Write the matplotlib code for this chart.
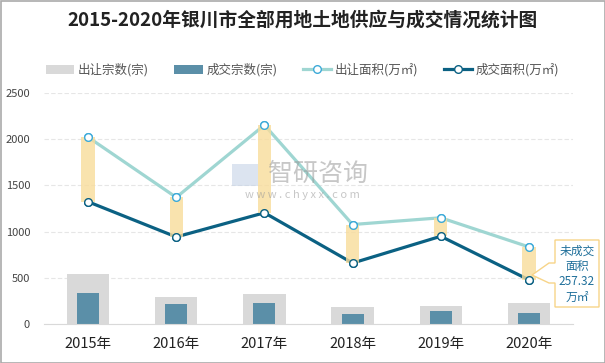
import numpy as np
import matplotlib.pyplot as plt
from matplotlib.patches import Rectangle, Polygon

plt.rcParams['font.family'] = ['Noto Sans CJK SC', 'DejaVu Sans']

years = ['2015年', '2016年', '2017年', '2018年', '2019年', '2020年']
supply_cnt = [541, 296, 329, 188, 198, 231]     # 出让宗数
deal_cnt = [339, 220, 231, 112, 144, 123]       # 成交宗数
supply_area = [2020, 1370, 2151, 1077, 1150, 835]  # 出让面积
deal_area = [1323, 943, 1204, 661, 950, 480]       # 成交面积
yticks = [0, 500, 1000, 1500, 2000, 2500]

W, H = 605, 363
fig = plt.figure(figsize=(W/100, H/100), dpi=100)
ax = fig.add_axes([44/W, 1-324.3/H, 529/W, (324.3-92.7)/H])
x = np.arange(len(years))

b1 = ax.bar(x, supply_cnt, width=0.48, color='#D9D9D9', zorder=2, label='出让宗数(宗)')
b2 = ax.bar(x, deal_cnt, width=0.25, color='#5B8FA8', zorder=2.5, label='成交宗数(宗)')

gap = np.array(supply_area) - np.array(deal_area)
ax.bar(x, gap, bottom=deal_area, width=0.15, color='#F8DC9A', alpha=0.8, zorder=4)

l1, = ax.plot(x, supply_area, color='#9FD6D2', lw=2.3, marker='o', ms=5.5,
              mfc='white', mec='#3DAAD8', mew=1.0, zorder=3, label='出让面积(万㎡)')
l2, = ax.plot(x, deal_area, color='#0B6183', lw=2.3, marker='o', ms=5.5,
              mfc='white', mec='#0B6183', mew=1.0, zorder=3, label='成交面积(万㎡)')
ax.plot(x, supply_area, ls='none', marker='o', ms=5.5, mfc='white', mec='#3DAAD8', mew=1.0, zorder=5)
ax.plot(x, deal_area, ls='none', marker='o', ms=5.5, mfc='white', mec='#0B6183', mew=1.0, zorder=5)

ax.set_xlim(-0.5, len(years)-0.5)
ax.set_ylim(0, 2500)
ax.set_yticks(yticks)
ax.set_yticklabels([str(v) for v in yticks], fontsize=8, color='#444444')
ax.set_xticks(x)
ax.set_xticklabels(years, fontsize=10.5, color='#222222')
ax.tick_params(axis='both', length=0)
ax.tick_params(axis='x', pad=9)
ax.tick_params(axis='y', pad=10)
ax.grid(axis='y', color='#E6E6E6', lw=0.8, ls=(0, (4, 2)), zorder=0)
for s in ['top', 'right', 'left']:
    ax.spines[s].set_visible(False)
ax.spines['bottom'].set_color('#D9D9D9')

fig.legend(handles=[b1, b2, l1, l2], loc='center', bbox_to_anchor=(0.5, 1-70/H), ncol=4,
           frameon=False, fontsize=9, labelcolor='#555555', handlelength=2.3,
           handletextpad=0.3, columnspacing=2.0)

fig.text(0.5, 1-20/H, '2015-2020年银川市全部用地土地供应与成交情况统计图',
         ha='center', va='center', fontsize=13.5, fontweight='semibold', color='#222222')

# watermark
fig.patches.append(Rectangle((232/W, 1-186/H), 26/W, 22/H, transform=fig.transFigure,
                             facecolor='#C5D3E6', edgecolor='none', alpha=0.6, zorder=10))
fig.text(318/W, 1-174/H, '智研咨询', ha='center', va='center', fontsize=18,
         color='#999999', alpha=0.55, zorder=10)
fig.text(302/W, 1-195/H, 'w w w . c h y x x . c o m', ha='center', va='center',
         fontsize=8, color='#999999', alpha=0.55, zorder=10)

# callout
pts = [(555, 240), (599, 240), (599, 307), (555, 307), (555, 283), (549, 283),
       (532, 275), (549, 263), (555, 263)]
fig.patches.append(Polygon([(px/W, 1-py/H) for px, py in pts], closed=True,
                           transform=fig.transFigure, facecolor='white',
                           edgecolor='#F7D488', lw=1, zorder=10))
fig.text(577/W, 1-274/H, '未成交\n面积\n257.32\n万㎡', ha='center', va='center',
         fontsize=8.5, color='#1F6F9A', linespacing=1.25, zorder=11)

fig.patches.append(Rectangle((0.5/W, 0.5/H), 1-1/W, 1-1/H, transform=fig.transFigure,
                             fill=False, edgecolor='#AAAAAA', lw=1.2))

fig.savefig('out.png', dpi=100)
